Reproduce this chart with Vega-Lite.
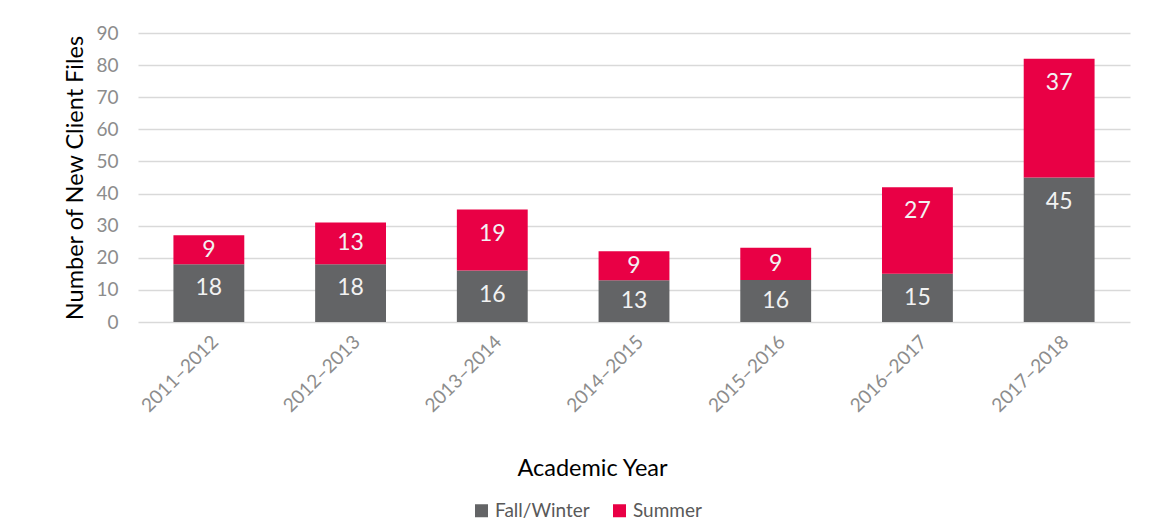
{
  "$schema": "https://vega.github.io/schema/vega-lite/v6.json",
  "width": 992,
  "height": 289,
  "autosize": {"type": "none"},
  "padding": {"left": 138, "top": 33, "right": 37, "bottom": 205},
  "background": "white",
  "config": {
    "font": "Lato",
    "view": {"stroke": null},
    "axisY": {
      "values": [0, 10, 20, 30, 40, 50, 60, 70, 80, 90],
      "labelOverlap": false,
      "grid": true,
      "gridColor": "#d9d9d9",
      "gridWidth": 1.5,
      "domain": false,
      "ticks": false,
      "labelPadding": 20,
      "labelFontSize": 19,
      "labelColor": "#8c8c8c",
      "titleFontSize": 23.5,
      "titleFontWeight": "normal",
      "titleColor": "#000000",
      "titlePadding": 8
    }
  },
  "data": {
    "values": [
      {"year": "2011–2012", "series": "Fall/Winter", "value": 18, "label": "18"},
      {"year": "2011–2012", "series": "Summer", "value": 9, "label": "9"},
      {"year": "2012–2013", "series": "Fall/Winter", "value": 18, "label": "18"},
      {"year": "2012–2013", "series": "Summer", "value": 13, "label": "13"},
      {"year": "2013–2014", "series": "Fall/Winter", "value": 16, "label": "16"},
      {"year": "2013–2014", "series": "Summer", "value": 19, "label": "19"},
      {"year": "2014–2015", "series": "Fall/Winter", "value": 13, "label": "13"},
      {"year": "2014–2015", "series": "Summer", "value": 9, "label": "9"},
      {"year": "2015–2016", "series": "Fall/Winter", "value": 13.1, "label": "16"},
      {"year": "2015–2016", "series": "Summer", "value": 10, "label": "9"},
      {"year": "2016–2017", "series": "Fall/Winter", "value": 15, "label": "15"},
      {"year": "2016–2017", "series": "Summer", "value": 27, "label": "27"},
      {"year": "2017–2018", "series": "Fall/Winter", "value": 45, "label": "45"},
      {"year": "2017–2018", "series": "Summer", "value": 37, "label": "37"}
    ]
  },
  "transform": [
    {"stack": "value", "groupby": ["year"], "sort": [{"field": "series", "order": "ascending"}], "as": ["v0", "v1"]},
    {"calculate": "max((datum.v0 + datum.v1) / 2, datum.v1 - 7.5)", "as": "labelPos"}
  ],
  "encoding": {
    "x": {
      "field": "year",
      "type": "nominal",
      "sort": null,
      "scale": {"paddingInner": 0.5, "paddingOuter": 0.25},
      "axis": {
        "labelAngle": -45,
        "labelFontSize": 19,
        "labelColor": "#8c8c8c",
        "ticks": false,
        "domain": false,
        "labelPadding": 10,
        "title": "Academic Year",
        "titleFontSize": 23.5,
        "titleFontWeight": "normal",
        "titleColor": "#000000",
        "titleX": 454,
        "titleY": 153,
        "titleBaseline": "alphabetic"
      }
    }
  },
  "layer": [
    {
      "mark": {"type": "bar"},
      "encoding": {
        "y": {
          "field": "v0",
          "type": "quantitative",
          "scale": {"domain": [0, 90], "nice": false},
          "axis": {"title": "Number of New Client Files"}
        },
        "y2": {"field": "v1"},
        "color": {
          "field": "series",
          "type": "nominal",
          "scale": {"domain": ["Fall/Winter", "Summer"], "range": ["#636466", "#E90045"]},
          "legend": {
            "title": null,
            "orient": "none",
            "direction": "horizontal",
            "legendX": 334,
            "legendY": 468,
            "symbolType": "square",
            "symbolSize": 169,
            "symbolStrokeWidth": 0,
            "labelFontSize": 19,
            "labelColor": "#595959",
            "labelOffset": 4,
            "columnPadding": 20,
            "padding": 0
          }
        }
      }
    },
    {
      "mark": {"type": "text", "color": "#f2f2f2", "fontSize": 23, "baseline": "middle", "align": "center"},
      "encoding": {
        "y": {"field": "labelPos", "type": "quantitative", "axis": {"title": "Number of New Client Files"}},
        "text": {"field": "label"}
      }
    }
  ]
}
